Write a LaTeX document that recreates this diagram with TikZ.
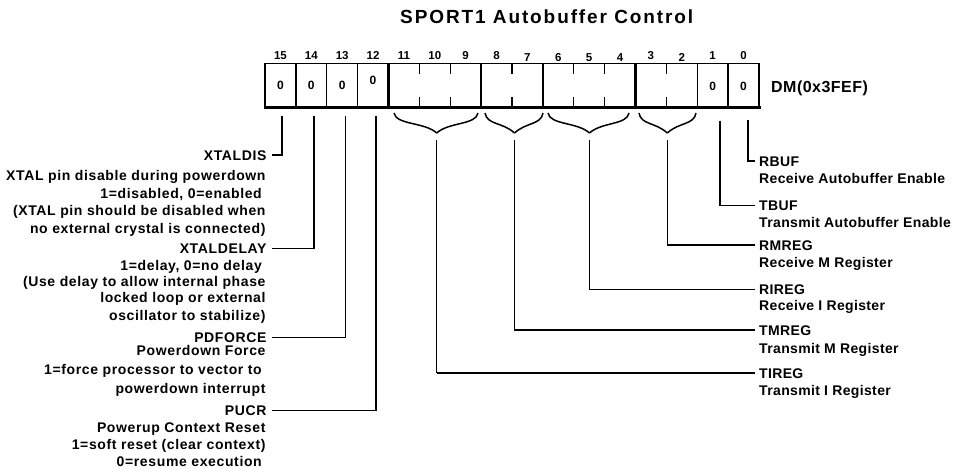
\documentclass[tikz,border=0pt]{standalone}
\usepackage{fontspec}
\setmainfont{Liberation Sans}
\newfontfamily\lfont[LetterSpace=4.5]{Liberation Sans}
\newfontfamily\rfont[LetterSpace=2.5]{Liberation Sans}
\newfontfamily\tfont[LetterSpace=10]{Liberation Sans}
\newfontfamily\dfont[LetterSpace=3]{Liberation Sans}
\begin{document}
\begin{tikzpicture}[x=1pt,y=-1pt,
  lt/.style={anchor=east,inner sep=0pt,text height=10pt,text depth=0pt,font=\lfont\bfseries\fontsize{14}{16}\selectfont},
  rt/.style={anchor=west,inner sep=0pt,text height=10pt,text depth=0pt,font=\rfont\bfseries\fontsize{14}{16}\selectfont},
  bitnum/.style={inner sep=0pt,text height=8pt,text depth=0pt,font=\bfseries\fontsize{11.5}{12}\selectfont},
  zero/.style={inner sep=0pt,text height=8.5pt,text depth=0pt,font=\bfseries\fontsize{12}{12}\selectfont},
  conn/.style={line width=1.2pt},
  connthick/.style={line width=1.9pt},
  thin/.style={line width=1.3pt},
  thick/.style={line width=2.6pt},
  brace/.style={line width=1.5pt}]
\useasboundingbox (0,0) rectangle (953,471);
\def\W{30.875}
% title
\node[anchor=base west,inner sep=0pt,font=\tfont\bfseries\fontsize{19}{20}\selectfont] (title) at (400,23.5) {SPORT1 Autobuffer Control};
% register box
\draw[line width=1.5pt] (265,63.5) rectangle (759,107);
\draw[line width=3pt] (263.5,107) -- (760.5,107);
\foreach \k in {1,2,3,7,9,14,15} \draw[thin] ({265+\k*\W},63.5) -- ({265+\k*\W},107);
\foreach \k in {4,12} \draw[thick] ({265+\k*\W},63.5) -- ({265+\k*\W},107);
\foreach \k in {5,6,10,11,13} {
  \draw[thin] ({265+\k*\W},63.5) -- ({265+\k*\W},73.5);
  \draw[thin] ({265+\k*\W},97) -- ({265+\k*\W},107);}
\draw[thick] ({265+8*\W},63.5) -- ({265+8*\W},73.5);
\draw[thick] ({265+8*\W},97) -- ({265+8*\W},107);
% bit numbers
\foreach \b/\dy in {15/0,14/0,13/0,12/0,11/0,10/0,9/0,8/0,7/2.5,6/2,5/2,4/2,3/0,2/2.5,1/0,0/0}
  \node[bitnum] (n\b) at ({265+(15-\b+0.5)*\W},{55+\dy}) {\b};
% zeros
\foreach \b/\y in {15/85,14/85,13/85,12/80.7,1/86.7,0/86.7}
  \node[zero] (z\b) at ({265+(15-\b+0.5)*\W},\y) {0};
\node[anchor=west,inner sep=0pt,text height=12pt,text depth=0pt,font=\dfont\bfseries\fontsize{16}{16}\selectfont] (dm) at (771,86) {DM(0x3FEF)};
% braces
\foreach \xa/\xb/\xm in {394/478/436.7,485/543/514.5,548/629/589.5,639/696/667.3}{
  \draw[brace] (\xa,113) .. controls (\xa+2,125) and (\xm-12,122) .. (\xm,133);
  \draw[brace] (\xb,113) .. controls (\xb-2,125) and (\xm+12,122) .. (\xm,133);}
% connector start points
\coordinate (s15) at (282,115.7);
\coordinate (s14) at (314,115.7);
\coordinate (s13) at (345.5,115.7);
\coordinate (s12) at (376,115.7);
\coordinate (s1) at (720,120.5);
\coordinate (s0) at (748,120);
\coordinate (t11) at (436.7,140);
\coordinate (t8) at (514.5,140);
\coordinate (t6) at (589.5,140);
\coordinate (t3) at (667.3,140);
% left texts
\node[lt] (xtaldis) at (266.7,155) {XTALDIS};
\node[lt] (l1) at (265.7,175) {XTAL pin disable during powerdown};
\node[lt] (l2) at (262,193.3) {1=disabled, 0=enabled};
\node[lt] (l3) at (265.7,210.7) {(XTAL pin should be disabled when};
\node[lt] (l4) at (265.7,228.3) {no external crystal is connected)};
\node[lt] (xtaldelay) at (266.7,248.3) {XTALDELAY};
\node[lt] (l5) at (262,265) {1=delay, 0=no delay};
\node[lt] (l6) at (265.7,281) {(Use delay to allow internal phase};
\node[lt] (l7) at (265.7,297.7) {locked loop or external};
\node[lt] (l8) at (265.7,315) {oscillator to stabilize)};
\node[lt] (pdforce) at (266.7,337.3) {PDFORCE};
\node[lt] (l9) at (265.7,350.7) {Powerdown Force};
\node[lt] (l10) at (262,369) {1=force processor to vector to};
\node[lt] (l11) at (265.7,388.3) {powerdown interrupt};
\node[lt] (pucr) at (266.7,410.7) {PUCR};
\node[lt] (l12) at (265.7,427.3) {Powerup Context Reset};
\node[lt] (l13) at (265.7,444) {1=soft reset (clear context)};
\node[lt] (l14) at (262,461.7) {0=resume execution};
% right texts
\node[rt] (rbuf) at (759,161) {RBUF};
\node[rt] (r1) at (759,178) {Receive Autobuffer Enable};
\node[rt] (tbuf) at (759,205.5) {TBUF};
\node[rt] (r2) at (759,222.3) {Transmit Autobuffer Enable};
\node[rt] (rmreg) at (759,245) {RMREG};
\node[rt] (r3) at (759,262.3) {Receive M Register};
\node[rt] (rireg) at (759,289.5) {RIREG};
\node[rt] (r4) at (759,305.5) {Receive I Register};
\node[rt] (tmreg) at (759,330) {TMREG};
\node[rt] (r5) at (759,348) {Transmit M Register};
\node[rt] (tireg) at (759,373) {TIREG};
\node[rt] (r6) at (759,390.7) {Transmit I Register};
% connectors left
\draw[conn] (s15) |- ([xshift=5pt]xtaldis.east);
\draw[conn] (s14) |- ([xshift=5pt]xtaldelay.east);
\draw[conn] (s13) |- ([xshift=5pt]pdforce.east);
\draw[conn] (s12) |- ([xshift=5pt]pucr.east);
% connectors right
\draw[conn] (s0) |- ([xshift=-4pt]rbuf.west);
\draw[conn] (s1) |- ([xshift=-4pt]tbuf.west);
\draw[conn] (t3) -- (t3 |- rmreg.west);
\draw[connthick] (t3 |- rmreg.west) -- ([xshift=-4pt]rmreg.west);
\draw[conn] (t6) -- (t6 |- rireg.west);
\draw[connthick] (t6 |- rireg.west) -- ([xshift=-4pt]rireg.west);
\draw[conn] (t8) |- ([xshift=-4pt]tmreg.west);
\draw[conn] (t11) -- (t11 |- tireg.west);
\draw[connthick] (t11 |- tireg.west) -- ([xshift=-4pt]tireg.west);
\end{tikzpicture}
\end{document}
